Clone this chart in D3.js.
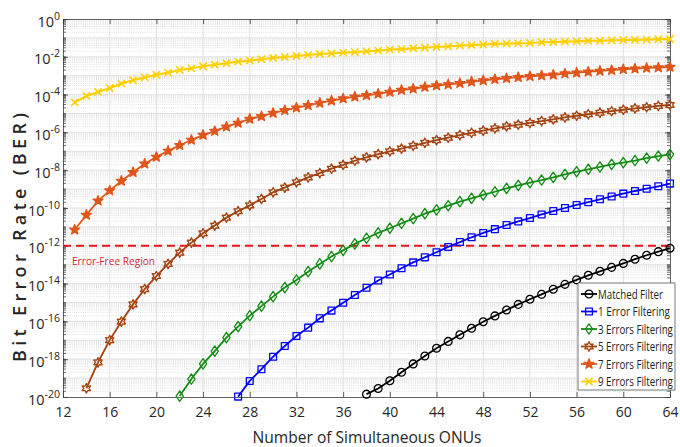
<!DOCTYPE html>
<html><head><meta charset="utf-8">
<script src="https://cdn.jsdelivr.net/npm/d3@7"></script>
<style>
html,body{margin:0;padding:0;background:#fff;}
svg{display:block;font-family:"Open Sans","Noto Sans",sans-serif;}
</style></head><body>
<svg id="chart" width="680" height="447"></svg>
<script>
// ---- data ----
const xTicks = [12,16,20,24,28,32,36,40,44,48,52,56,60,64];
const yTickExps = [0,-2,-4,-6,-8,-10,-12,-14,-16,-18,-20];
const threshold = 1e-12;
const thresholdLabel = "Error-Free Region";
const xTitle = "Number of Simultaneous ONUs";
const yTitle = "Bit Error Rate (BER)";

const onusMatched = [38,39,40,41,42,43,44,45,46,47,48,49,50,51,52,53,54,55,56,57,58,59,60,61,62,63,64];
const berMatched = [1.41e-20,2.82e-20,7.24e-20,2.04e-19,5.62e-19,1.48e-18,3.80e-18,8.71e-18,1.95e-17,4.37e-17,9.55e-17,1.95e-16,3.98e-16,7.94e-16,1.48e-15,2.69e-15,5.01e-15,9.12e-15,1.58e-14,2.75e-14,4.47e-14,7.24e-14,1.17e-13,1.95e-13,3.16e-13,4.90e-13,7.41e-13];

const onus1 = [27,28,29,30,31,32,33,34,35,36,37,38,39,40,41,42,43,44,45,46,47,48,49,50,51,52,53,54,55,56,57,58,59,60,61,62,63,64];
const ber1 = [1.05e-20,7.08e-20,2.95e-19,1.35e-18,5.01e-18,1.70e-17,4.68e-17,1.45e-16,3.72e-16,9.77e-16,2.51e-15,6.03e-15,1.45e-14,3.02e-14,6.46e-14,1.32e-13,2.45e-13,4.57e-13,8.71e-13,1.58e-12,2.82e-12,4.79e-12,7.59e-12,1.26e-11,1.95e-11,2.95e-11,4.57e-11,6.92e-11,1.00e-10,1.45e-10,2.04e-10,2.88e-10,4.07e-10,5.75e-10,7.94e-10,1.05e-9,1.41e-9,1.95e-9];

const onus3 = [22,23,24,25,26,27,28,29,30,31,32,33,34,35,36,37,38,39,40,41,42,43,44,45,46,47,48,49,50,51,52,53,54,55,56,57,58,59,60,61,62,63,64];
const ber3 = [1.12e-20,8.91e-20,5.62e-19,2.69e-18,1.38e-17,5.25e-17,2.00e-16,6.46e-16,2.04e-15,6.17e-15,1.55e-14,4.27e-14,1.10e-13,2.69e-13,5.75e-13,1.26e-12,2.51e-12,4.79e-12,8.51e-12,1.55e-11,2.75e-11,5.01e-11,7.94e-11,1.32e-10,2.19e-10,3.24e-10,4.90e-10,7.24e-10,1.10e-9,1.58e-9,2.19e-9,3.02e-9,4.17e-9,6.03e-9,8.32e-9,1.12e-8,1.48e-8,2.04e-8,2.51e-8,3.24e-8,4.37e-8,5.62e-8,6.92e-8];

const onus5 = [14,15,16,17,18,19,20,21,22,23,24,25,26,27,28,29,30,31,32,33,34,35,36,37,38,39,40,41,42,43,44,45,46,47,48,49,50,51,52,53,54,55,56,57,58,59,60,61,62,63,64];
const ber5 = [2.88e-20,6.76e-19,1.02e-17,9.77e-17,7.94e-16,5.13e-15,2.51e-14,1.10e-13,4.37e-13,1.48e-12,4.57e-12,1.17e-11,3.09e-11,6.76e-11,1.38e-10,3.02e-10,6.76e-10,1.20e-9,2.29e-9,4.17e-9,7.08e-9,1.20e-8,1.91e-8,3.16e-8,4.79e-8,7.08e-8,1.00e-7,1.38e-7,1.95e-7,2.82e-7,3.89e-7,5.25e-7,7.24e-7,9.55e-7,1.23e-6,1.62e-6,2.09e-6,2.57e-6,3.16e-6,3.98e-6,4.90e-6,6.17e-6,7.59e-6,9.12e-6,1.10e-5,1.32e-5,1.58e-5,1.86e-5,2.14e-5,2.51e-5,2.82e-5];

const onus7 = [13,14,15,16,17,18,19,20,21,22,23,24,25,26,27,28,29,30,31,32,33,34,35,36,37,38,39,40,41,42,43,44,45,46,47,48,49,50,51,52,53,54,55,56,57,58,59,60,61,62,63,64];
const ber7 = [7.08e-12,4.27e-11,2.40e-10,8.32e-10,2.69e-9,7.76e-9,2.19e-8,5.01e-8,1.05e-7,2.09e-7,3.98e-7,7.24e-7,1.17e-6,2.00e-6,3.16e-6,5.13e-6,7.08e-6,1.07e-5,1.48e-5,2.04e-5,2.69e-5,3.63e-5,4.79e-5,6.17e-5,7.76e-5,9.12e-5,1.10e-4,1.38e-4,1.74e-4,2.04e-4,2.51e-4,3.02e-4,3.47e-4,3.98e-4,4.79e-4,5.62e-4,6.46e-4,7.24e-4,8.32e-4,9.33e-4,1.02e-3,1.12e-3,1.29e-3,1.45e-3,1.62e-3,1.78e-3,1.95e-3,2.19e-3,2.34e-3,2.57e-3,2.69e-3,2.88e-3];

const onus9 = [13,14,15,16,17,18,19,20,21,22,23,24,25,26,27,28,29,30,31,32,33,34,35,36,37,38,39,40,41,42,43,44,45,46,47,48,49,50,51,52,53,54,55,56,57,58,59,60,61,62,63,64];
const ber9 = [3.89e-5,8.51e-5,1.38e-4,2.24e-4,3.80e-4,5.75e-4,8.13e-4,1.12e-3,1.45e-3,2.00e-3,2.45e-3,3.16e-3,3.80e-3,4.57e-3,5.50e-3,6.31e-3,7.41e-3,8.71e-3,9.77e-3,1.10e-2,1.26e-2,1.41e-2,1.51e-2,1.66e-2,1.78e-2,1.95e-2,2.14e-2,2.40e-2,2.57e-2,2.82e-2,3.02e-2,3.31e-2,3.55e-2,3.89e-2,4.17e-2,4.37e-2,4.79e-2,5.01e-2,5.13e-2,5.37e-2,5.89e-2,6.03e-2,6.31e-2,6.61e-2,6.92e-2,7.08e-2,7.41e-2,7.76e-2,7.94e-2,8.13e-2,8.51e-2,8.71e-2];

const seriesNames = ["Matched Filter","1 Error Filtering","3 Errors Filtering","5 Errors Filtering","7 Errors Filtering","9 Errors Filtering"];
const seriesColors = ["#000000","#0000ff","#148c14","#a3410f","#e0561b","#ffd000"];
const seriesMarkers = ["circle","square","diamond","hexagram","pentagram","x"];
const seriesX = [onusMatched,onus1,onus3,onus5,onus7,onus9];
const seriesY = [berMatched,ber1,ber3,ber5,ber7,ber9];

// ---- layout ----
const svg = d3.select("#chart");
const L = 63, R = 670, T = 19, B = 397;
const x = d3.scaleLinear().domain([12,64]).range([L,R]);
const y = d3.scaleLog().domain([1e-20,1]).range([B,T]);

// grid
const grid = svg.append("g");
const minorVals = [];
for (let e=-20; e<0; e++) for (let m=2; m<=9; m++) minorVals.push(m*Math.pow(10,e));
grid.selectAll("line.minor").data(minorVals).enter().append("line")
  .attr("x1",L).attr("x2",R).attr("y1",d=>y(d)).attr("y2",d=>y(d))
  .attr("stroke","#d4d4d4").attr("stroke-width",0.7).attr("stroke-dasharray","1,1.2");
const decades = d3.range(-19,0).map(e=>Math.pow(10,e));
grid.selectAll("line.dec").data(decades).enter().append("line")
  .attr("x1",L).attr("x2",R).attr("y1",d=>y(d)).attr("y2",d=>y(d))
  .attr("stroke","#e0e0e0").attr("stroke-width",1);
grid.selectAll("line.vx").data(xTicks.slice(1,-1)).enter().append("line")
  .attr("x1",d=>x(d)).attr("x2",d=>x(d)).attr("y1",T).attr("y2",B)
  .attr("stroke","#e0e0e0").attr("stroke-width",1);

// axes
const axisColor = "#3a3a3a";
const xAxis = svg.append("g").attr("transform",`translate(0,${B})`)
  .call(d3.axisBottom(x).tickValues(xTicks).tickSizeInner(-5).tickSizeOuter(0).tickPadding(10));
xAxis.selectAll("text").attr("font-size","14px").attr("fill","#262626").attr("font-family","'Open Sans',sans-serif");
const xAxisTop = svg.append("g").attr("transform",`translate(0,${T})`)
  .call(d3.axisTop(x).tickValues(xTicks).tickSizeInner(-5).tickSizeOuter(0).tickFormat(""));
const yAxis = svg.append("g").attr("transform",`translate(${L},0)`)
  .call(d3.axisLeft(y).tickValues(yTickExps.map(e=>Math.pow(10,e))).tickSizeInner(-5).tickSizeOuter(0).tickPadding(6).tickFormat(""));
const yAxisR = svg.append("g").attr("transform",`translate(${R},0)`)
  .call(d3.axisRight(y).tickValues(yTickExps.map(e=>Math.pow(10,e))).tickSizeInner(-5).tickSizeOuter(0).tickFormat(""));
[xAxis,xAxisTop,yAxis,yAxisR].forEach(g=>{g.select(".domain").attr("stroke",axisColor).attr("stroke-width",0.8);g.selectAll(".tick line").attr("stroke",axisColor).attr("stroke-width",0.8);});
// minor y ticks on left & right
svg.append("g").selectAll("line").data(minorVals.concat(decades)).enter().append("line")
  .attr("x1",L).attr("x2",L+3).attr("y1",d=>y(d)).attr("y2",d=>y(d)).attr("stroke",axisColor).attr("stroke-width",0.7);
svg.append("g").selectAll("line").data(minorVals.concat(decades)).enter().append("line")
  .attr("x1",R-3).attr("x2",R).attr("y1",d=>y(d)).attr("y2",d=>y(d)).attr("stroke",axisColor).attr("stroke-width",0.7);
// y tick labels with superscripts
yAxis.selectAll(".tick").each(function(d){
  const e = Math.round(Math.log10(d));
  const t = d3.select(this).append("text").attr("x",-3).attr("y",7).attr("text-anchor","end")
    .attr("fill","#262626").attr("font-size","14.5px").attr("font-family","'Open Sans',sans-serif");
  t.append("tspan").text("10");
  t.append("tspan").attr("dy",-7).attr("font-size","10.5px").text(String(e));
});

// threshold
svg.append("line").attr("x1",L).attr("x2",R).attr("y1",y(threshold)).attr("y2",y(threshold))
  .attr("stroke","#e8161b").attr("stroke-width",2).attr("stroke-dasharray","8,5");
svg.append("text").attr("x",72).attr("y",265).text(thresholdLabel)
  .attr("fill","#dd2233").attr("font-size","11.5px").attr("textLength",83).attr("lengthAdjust","spacingAndGlyphs");

// marker paths
function markerPath(kind){
  if(kind==="circle") return d3.symbol(d3.symbolCircle,48)();
  if(kind==="square") return "M-3.4,-3.4L3.4,-3.4L3.4,3.4L-3.4,3.4Z";
  if(kind==="diamond") return "M0,-5.2L3.6,0L0,5.2L-3.6,0Z";
  if(kind==="pentagram"){
    const pts=[];for(let i=0;i<10;i++){const r=i%2===0?5.2:2.2;const a=-Math.PI/2+i*Math.PI/5;pts.push([r*Math.cos(a),r*Math.sin(a)]);}
    return "M"+pts.map(p=>p[0].toFixed(2)+","+p[1].toFixed(2)).join("L")+"Z";
  }
  if(kind==="hexagram"){
    const pts=[];for(let i=0;i<12;i++){const r=i%2===0?4.8:2.6;const a=-Math.PI/2+i*Math.PI/6;pts.push([r*Math.cos(a),r*Math.sin(a)]);}
    return "M"+pts.map(p=>p[0].toFixed(2)+","+p[1].toFixed(2)).join("L")+"Z";
  }
  if(kind==="x") return "M-3.6,-3.6L3.6,3.6M-3.6,3.6L3.6,-3.6";
}
function drawMarker(g,kind,color){
  const filled = kind==="pentagram";
  g.append("path").attr("d",markerPath(kind))
    .attr("fill",filled?color:"none").attr("stroke",color).attr("stroke-width",kind==="x"?1.6:1.3)
    .attr("stroke-linejoin","round");
}

// series
const line = d3.line().x(d=>x(d[0])).y(d=>y(d[1]));
const plot = svg.append("g");
seriesNames.forEach((name,i)=>{
  const pts = seriesX[i].map((v,j)=>[v,seriesY[i][j]]);
  const g = plot.append("g");
  g.append("path").datum(pts).attr("d",line).attr("fill","none")
    .attr("stroke",seriesColors[i]).attr("stroke-width",i===5?2.2:1.8);
  g.selectAll("g.m").data(pts).enter().append("g")
    .attr("transform",d=>`translate(${x(d[0])},${y(d[1])})`)
    .each(function(){drawMarker(d3.select(this),seriesMarkers[i],seriesColors[i]);});
});

// legend
const lg = svg.append("g");
lg.append("rect").attr("x",578).attr("y",283).attr("width",97).attr("height",107)
  .attr("fill","#fff").attr("stroke","#555").attr("stroke-width",0.8);
const legendLens = [65,72,75,75,75,75];
seriesNames.forEach((name,i)=>{
  const cy = 294 + i*17.5;
  lg.append("line").attr("x1",581).attr("x2",597).attr("y1",cy).attr("y2",cy)
    .attr("stroke",seriesColors[i]).attr("stroke-width",1.8);
  const mg = lg.append("g").attr("transform",`translate(589,${cy})`);
  drawMarker(mg,seriesMarkers[i],seriesColors[i]);
  const tg = lg.append("g");
  const t = tg.append("text").attr("x",0).attr("y",0).text(name)
    .attr("font-size","12px").attr("fill","#222");
  const w = t.node().getComputedTextLength();
  const sx = Math.min(1, legendLens[i]/w);
  tg.attr("transform",`translate(598,${cy+4.5}) scale(${sx},1)`);
});

// titles
svg.append("text").attr("x",367).attr("y",443).attr("text-anchor","middle").text(xTitle)
  .attr("font-size","16.5px").attr("fill","#262626").attr("textLength",229).attr("lengthAdjust","spacingAndGlyphs");
svg.append("text").attr("transform","translate(26,237.5) rotate(-90)").attr("text-anchor","middle").text(yTitle)
  .attr("font-size","18px").attr("font-weight","600").attr("fill","#262626").attr("textLength",249).attr("lengthAdjust","spacing");
</script>
</body></html>
